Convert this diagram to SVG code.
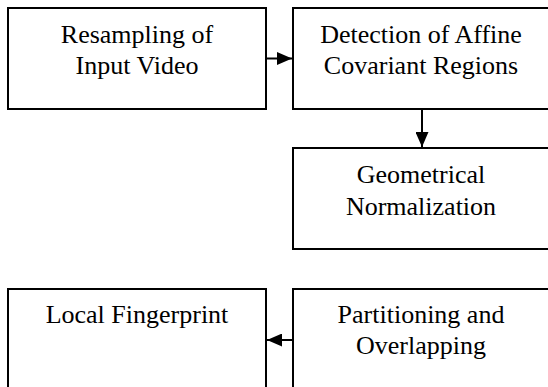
<svg xmlns="http://www.w3.org/2000/svg" width="548" height="387" viewBox="0 0 548 387">
<style>
.box{fill:#fff;stroke:#000;stroke-width:2}
.t{font-family:"Liberation Serif","Times New Roman",serif;font-size:26px;fill:#000;text-anchor:middle}
.c{stroke:#000;stroke-width:2;fill:none}
</style>
<defs>
<marker id="ah" markerUnits="userSpaceOnUse" markerWidth="15" markerHeight="13" refX="15" refY="6.5" orient="auto">
<path d="M0,0 L15,6.5 L0,13 z" fill="#000"/>
</marker>
</defs>
<rect width="548" height="387" fill="#fff"/>
<g id="n1"><rect class="box" x="8" y="8" width="258" height="101"/>
<text class="t" x="137" y="42.5">Resampling of</text>
<text class="t" x="137" y="74">Input Video</text></g>
<g id="n2"><rect class="box" x="293" y="8" width="258" height="101"/>
<text class="t" x="421" y="42.5">Detection of Affine</text>
<text class="t" x="421" y="74">Covariant Regions</text></g>
<g id="n3"><rect class="box" x="293" y="148" width="258" height="101"/>
<text class="t" x="421" y="183">Geometrical</text>
<text class="t" x="421" y="215">Normalization</text></g>
<g id="n4"><rect class="box" x="8" y="289" width="258" height="120"/>
<text class="t" x="137" y="323">Local Fingerprint</text></g>
<g id="n5"><rect class="box" x="293" y="289" width="258" height="120"/>
<text class="t" x="421" y="323">Partitioning and</text>
<text class="t" x="421" y="354">Overlapping</text></g>
<g id="connectors">
<line class="c" x1="267" y1="58.5" x2="292" y2="58.5" marker-end="url(#ah)"/>
<line class="c" x1="422" y1="110" x2="422" y2="147" marker-end="url(#ah)"/>
<line class="c" x1="292" y1="340" x2="267" y2="340" marker-end="url(#ah)"/>
</g>
</svg>
